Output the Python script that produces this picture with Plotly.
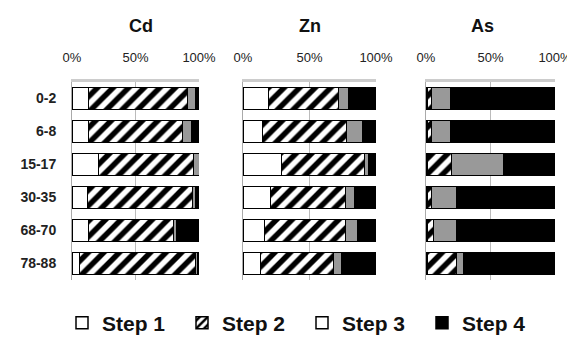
import plotly.graph_objects as go

depths = ["0-2", "6-8", "15-17", "30-35", "68-70", "78-88"]
metals = ["Cd", "Zn", "As"]
steps = ["Step 1", "Step 2", "Step 3", "Step 4"]

cd_step1 = [13, 13, 21, 12, 13, 6]
cd_step2 = [78, 74, 75, 83, 67, 91]
cd_step3 = [6, 7, 4, 2, 2, 2]
cd_step4 = [3, 6, 0, 3, 18, 1]

zn_step1 = [19, 15, 29, 21, 16, 13]
zn_step2 = [53, 63, 62, 56, 61, 55]
zn_step3 = [7, 12, 3, 7, 9, 6]
zn_step4 = [21, 10, 6, 16, 14, 26]

as_step1 = [1, 1, 1, 1, 1, 1]
as_step2 = [3, 3, 19, 3, 5, 23]
as_step3 = [15, 15, 40, 20, 18, 5]
as_step4 = [81, 81, 40, 76, 76, 71]

tick_vals = [0, 50, 100]
tick_text = ["0%", "50%", "100%"]

data = {
    "Cd": [cd_step1, cd_step2, cd_step3, cd_step4],
    "Zn": [zn_step1, zn_step2, zn_step3, zn_step4],
    "As": [as_step1, as_step2, as_step3, as_step4],
}

# page body has an 8px margin; figure sized to fit the remaining window
OFF = 8
W, H = 575 - OFF, 338 - OFF
def px(x):
    return (x - OFF) / W
def py(y):
    return 1 - (y - OFF) / H

styles = [
    dict(color="white"),
    dict(color="white", pattern=dict(shape="/", fgcolor="#000000", bgcolor="white",
                                     fgopacity=1, size=11, solidity=0.5)),
    dict(color="#999999"),
    dict(color="black"),
]
legend_styles = [
    dict(color="white"),
    dict(color="white", pattern=dict(shape="/", fgcolor="#000000", bgcolor="white",
                                     fgopacity=1, size=7, solidity=0.45)),
    dict(color="white"),
    dict(color="black"),
]

domains = [[px(72), px(199)], [px(243), px(376)], [px(426), px(555)]]
title_pos = [px(127), px(310), px(496)]

fig = go.Figure()
for i, m in enumerate(metals):
    xa = "x" if i == 0 else f"x{i+1}"
    ya = "y" if i == 0 else f"y{i+1}"
    for s in range(4):
        fig.add_trace(go.Bar(
            y=depths, x=data[m][s], orientation="h", name=steps[s],
            marker=dict(**styles[s], line=dict(color="black", width=1)),
            xaxis=xa, yaxis=ya, showlegend=False,
        ))

for s in range(4):
    fig.add_trace(go.Bar(
        y=[None], x=[None], orientation="h", name=f"<b>{steps[s]}</b>",
        marker=dict(**legend_styles[s], line=dict(color="black", width=1.5)),
        xaxis="x", yaxis="y", showlegend=True,
    ))

layout = dict(
    width=W, height=H,
    margin=dict(l=0, r=0, t=0, b=0, autoexpand=False),
    barmode="stack", bargap=0.33,
    plot_bgcolor="white", paper_bgcolor="white",
    font=dict(family="Liberation Sans, Arial, sans-serif", color="#111"),
    legend=dict(orientation="h", x=px(62), xanchor="left", y=py(323), yanchor="middle",
                font=dict(size=21, color="#111", family="Liberation Sans, Arial, sans-serif"),
                itemwidth=30, entrywidth=75, entrywidthmode="pixels",
                tracegroupgap=0, traceorder="normal"),
)
for i, m in enumerate(metals):
    suf = "" if i == 0 else str(i+1)
    layout[f"xaxis{suf}"] = dict(
        domain=domains[i], range=[0, 100], side="top",
        tickvals=tick_vals, ticktext=tick_text,
        tickfont=dict(size=13, color="#222222"),
        showgrid=True, gridcolor="#bbbbbb", gridwidth=1,
        zeroline=False, showline=True, linecolor="#cccccc", linewidth=3,
        ticklabelstandoff=12, anchor="y" + suf, fixedrange=True, automargin=False,
    )
    layout[f"yaxis{suf}"] = dict(
        domain=[py(280), py(82)], autorange="reversed",
        categoryorder="array", categoryarray=depths,
        tickvals=depths, ticktext=[f"<b>{d}</b>" for d in depths],
        showticklabels=(i == 0), tickfont=dict(size=14, color="#222222"),
        showgrid=False, showline=True, linecolor="#aaaaaa", linewidth=1,
        anchor="x" + suf, ticklen=0,
        ticklabelstandoff=12, automargin=False,
    )
fig.update_layout(**layout)

for i, m in enumerate(metals):
    fig.add_annotation(text=f"<b>{m}</b>", x=title_pos[i], y=py(26), xref="paper", yref="paper",
                       showarrow=False, font=dict(size=18, color="#111111"), yanchor="middle")

fig.write_html("out.html")
